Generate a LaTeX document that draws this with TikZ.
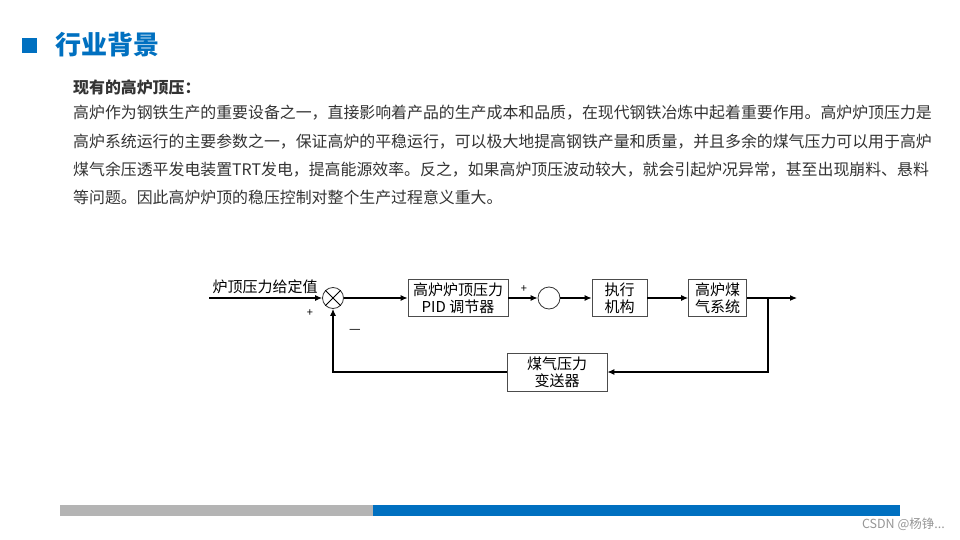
\documentclass[tikz,border=0pt]{standalone}
\usepackage{fontspec}
\setmainfont{Noto Sans CJK SC}
\usetikzlibrary{arrows.meta,positioning}
\definecolor{titleblue}{RGB}{0,112,192}
\definecolor{bodygray}{RGB}{51,51,51}
\definecolor{bargray}{RGB}{180,180,180}
\definecolor{markgray}{RGB}{150,150,150}

\begin{document}
\begin{tikzpicture}[x=1pt,y=-1pt,
    body/.style={anchor=west, inner sep=0pt, text=bodygray, font=\fontsize{15.9}{19}\selectfont},
    block/.style={draw=black!70, line width=0.8pt, minimum height=37pt, align=center,
      inner sep=1pt, font=\fontsize{15}{17}\selectfont},
    junction/.style={draw=black!80, line width=0.8pt, circle, inner sep=0pt, minimum size=21pt},
    sign/.style={inner sep=0pt, font=\fontsize{11}{12}\selectfont},
    arr/.style={line width=1.1pt, -{Latex[length=7pt,width=6pt]}}]
  \useasboundingbox (0,0) rectangle (960,540);

  % heading
  \fill[titleblue] (22,38) rectangle (37,53);
  \node[anchor=west, inner sep=0pt, text=titleblue, font=\fontsize{26}{30}\selectfont\bfseries] (title) at (55,45) {行业背景};

  % text block
  \node[body, font=\fontsize{15.9}{19}\selectfont\bfseries] (head) at (73,87) {现有的高炉顶压：};
  \node[body] (line1) at (73,113) {高炉作为钢铁生产的重要设备之一，直接影响着产品的生产成本和品质，在现代钢铁冶炼中起着重要作用。高炉炉顶压力是};
  \node[body] (line2) at (73,142) {高炉系统运行的主要参数之一，保证高炉的平稳运行，可以极大地提高钢铁产量和质量，并且多余的煤气压力可以用于高炉};
  \node[body] (line3) at (73,170) {煤气余压透平发电装置TRT发电，提高能源效率。反之，如果高炉顶压波动较大，就会引起炉况异常，甚至出现崩料、悬料};
  \node[body] (line4) at (73,197) {等问题。因此高炉炉顶的稳压控制对整个生产过程意义重大。};

  % control loop
  \coordinate (in) at (209,298);
  \node[junction] (sum) at (333,298) {};
  \draw[line width=0.8pt] (sum.north east) -- (sum.south west) (sum.north west) -- (sum.south east);
  \node[block, minimum width=100pt] (pid) at (458,298) {高炉炉顶压力\\PID 调节器};
  \node[junction, minimum size=22pt] (sum2) at (549,298) {};
  \node[block, minimum width=55pt] (act) at (619.5,298) {执行\\机构};
  \node[block, minimum width=58pt] (gas) at (717.5,298) {高炉煤\\气系统};
  \coordinate (branch) at (768,298);
  \coordinate (out) at (797,298);
  \node[block, minimum width=100pt, minimum height=38pt] (trans) at (557,372) {煤气压力\\变送器};

  \node[inner sep=0pt, font=\fontsize{15}{17}\selectfont] (setpoint) at (265,287) {炉顶压力给定值};
  \node[sign] (plus1) at (310,313) {+};
  \node[sign] (plus2) at (524,289) {+};
  \node[sign, font=\fontsize{13}{14}\selectfont] (minus) at (355,331) {—};

  \draw[arr] (in) -- (sum.west);
  \draw[arr] (sum) -- (pid);
  \draw[arr] (pid) -- (sum2);
  \draw[arr] (sum2) -- (act);
  \draw[arr] (act) -- (gas);
  \draw[arr] (gas) -- (out);
  \draw[arr] (branch) |- (trans);
  \draw[arr] (trans) -| (sum);

  % footer
  \fill[bargray] (60,505) rectangle (373,516);
  \fill[titleblue] (373,505) rectangle (900,516);
  \node[anchor=east, inner sep=0pt, text=markgray, font=\fontsize{12.5}{14}\selectfont] (mark) at (945,524) {CSDN @杨铮...};
\end{tikzpicture}
\end{document}
